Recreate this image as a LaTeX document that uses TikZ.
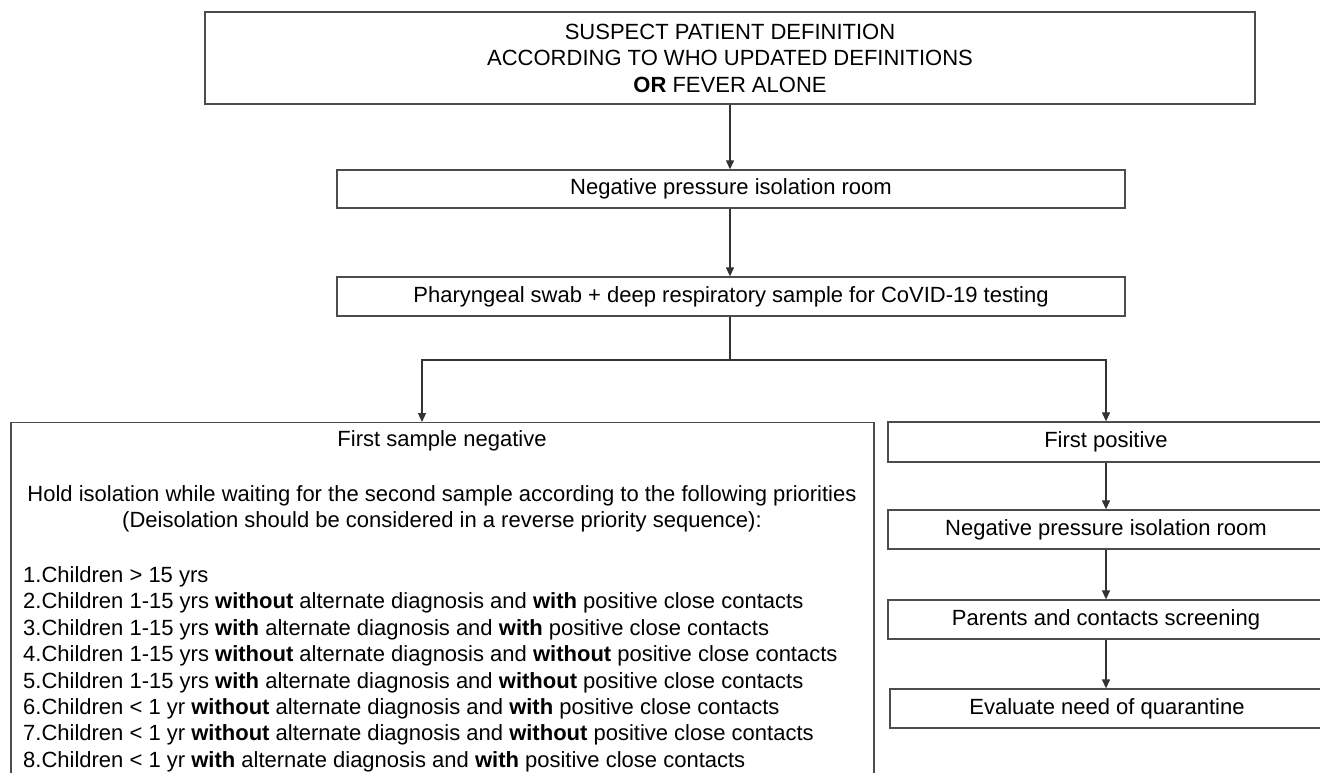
\documentclass[tikz,border=0pt]{standalone}
\usepackage{fontspec}
\setmainfont{Liberation Sans}
\usetikzlibrary{arrows.meta}
\begin{document}
\begin{tikzpicture}[x=1pt,y=-1pt,
  box/.style={draw=black!70, line width=1.3pt, inner sep=0pt, align=center, font=\fontsize{22}{26.5}\selectfont},
  txt/.style={inner sep=0pt, align=center, font=\fontsize{22}{26.4}\selectfont},
  item/.style={inner sep=0pt, anchor=base west, font=\fontsize{22}{26.4}\selectfont},
  arr/.style={draw=black!80, line width=1.2pt, -{Triangle[length=9pt,width=8pt]}},
  conn/.style={draw=black!80, line width=1.2pt}]
\clip (0,0) rectangle (1320,773);
\fill[white] (0,0) rectangle (1320,773);
% top section
\node[box, minimum width=1050pt, minimum height=92pt] (top) at (730,58)
  {SUSPECT PATIENT DEFINITION\\ACCORDING TO WHO UPDATED DEFINITIONS\\\textbf{OR} FEVER ALONE};
\node[box, minimum width=788pt, minimum height=38pt] (iso) at (731,189) {Negative pressure isolation room};
\node[box, minimum width=788pt, minimum height=39pt] (swab) at (731,296.5) {Pharyngeal swab + deep respiratory sample for CoVID-19 testing};
% left branch
\node[box, minimum width=863pt, minimum height=420pt, anchor=north] (neg) at (442.5,422) {};
\node[txt] (negtitle) at (442,441) {First sample negative};
\node[txt] (hold) at (442,509) {Hold isolation while waiting for the second sample according to the following priorities\\(Deisolation should be considered in a reverse priority sequence):};
\node[item] (l1) at (23,582.5) {1.Children > 15 yrs};
\node[item] (l2) at (23,608.9) {2.Children 1-15 yrs \textbf{without} alternate diagnosis and \textbf{with} positive close contacts};
\node[item] (l3) at (23,635.3) {3.Children 1-15 yrs \textbf{with} alternate diagnosis and \textbf{with} positive close contacts};
\node[item] (l4) at (23,661.7) {4.Children 1-15 yrs \textbf{without} alternate diagnosis and \textbf{without} positive close contacts};
\node[item] (l5) at (23,688.1) {5.Children 1-15 yrs \textbf{with} alternate diagnosis and \textbf{without} positive close contacts};
\node[item] (l6) at (23,714.5) {6.Children < 1 yr \textbf{without} alternate diagnosis and \textbf{with} positive close contacts};
\node[item] (l7) at (23,740.9) {7.Children < 1 yr \textbf{without} alternate diagnosis and \textbf{without} positive close contacts};
\node[item] (l8) at (23,767.3) {8.Children < 1 yr \textbf{with} alternate diagnosis and \textbf{with} positive close contacts};
% right branch
\node[box, minimum width=436pt, minimum height=40pt] (pos) at (1106,442) {First positive};
\node[box, minimum width=436pt, minimum height=39pt] (iso2) at (1106,529.5) {Negative pressure isolation room};
\node[box, minimum width=436pt, minimum height=39pt] (screen) at (1106,619.5) {Parents and contacts screening};
\node[box, minimum width=434pt, minimum height=39pt] (quar) at (1107,708.5) {Evaluate need of quarantine};
% connectors
\coordinate (sl) at (422,360);
\coordinate (sr) at (1106,360);
\draw[arr] (top.south -| 730,0) -- (iso.north -| 730,0);
\draw[arr] (iso.south -| 730,0) -- (swab.north -| 730,0);
\draw[conn] (swab.south -| 730,0) -- (sl -| 730,0);
\draw[arr] (sl -| 730,0) -- (sl) -- (sl |- neg.north);
\draw[arr] (sl -| 730,0) -- (sr) -- (sr |- pos.north);
\draw[arr] (pos.south) -- (iso2.north);
\draw[arr] (iso2.south) -- (screen.north);
\draw[arr] (screen.south) -- (screen.south |- quar.north);
\end{tikzpicture}
\end{document}
